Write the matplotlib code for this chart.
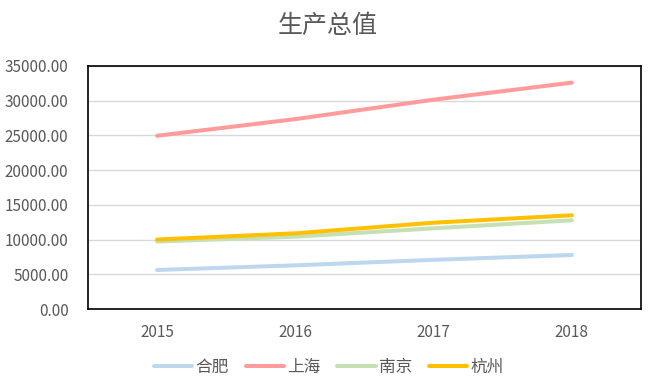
import matplotlib
matplotlib.use("Agg")
import matplotlib.pyplot as plt

plt.rcParams['font.family'] = ['Noto Sans CJK SC', 'DejaVu Sans']

# Data
years = ["2015", "2016", "2017", "2018"]
hefei = [5620, 6290, 7080, 7780]
shanghai = [24950, 27350, 30150, 32600]
nanjing = [9720, 10420, 11620, 12780]
hangzhou = [10000, 10900, 12430, 13500]

series = [
    ("合肥", hefei, "#BDD7EE"),
    ("上海", shanghai, "#FF9B9B"),
    ("南京", nanjing, "#C5E0B4"),
    ("杭州", hangzhou, "#FFC000"),
]

text_color = "#595959"

fig = plt.figure(figsize=(6.56, 3.90), dpi=100)
ax = fig.add_axes([88 / 656, 1 - 309 / 390, (641 - 88) / 656, (309 - 66) / 390])

x = list(range(len(years)))
for name, vals, col in series:
    ax.plot(x, vals, color=col, linewidth=2.9, solid_capstyle="round", label=name)

# Axes
ax.set_xlim(-0.5, len(years) - 0.5)
ax.set_ylim(0, 35000)
ax.set_yticks(range(0, 35001, 5000))
ax.set_yticklabels(["{:.2f}".format(v) for v in range(0, 35001, 5000)])
ax.set_xticks(x)
ax.set_xticklabels(years)
ax.tick_params(axis="y", length=0, pad=14, labelsize=11, labelcolor=text_color)
ax.tick_params(axis="x", length=0, pad=11, labelsize=11, labelcolor=text_color)

# Grid
ax.grid(axis="y", color="#D9D9D9", linewidth=1)
ax.set_axisbelow(True)
for sp in ax.spines.values():
    sp.set_color("black")
    sp.set_linewidth(1.2)

# Title
fig.text(0.5, 1 - 26 / 390, "生产总值", ha="center", va="center",
         fontsize=18, color=text_color)

# Legend
leg = fig.legend(loc="center", bbox_to_anchor=(329 / 656, 1 - 367 / 390), ncol=4,
                 frameon=False, fontsize=12, handlelength=2.3, handletextpad=0.2,
                 columnspacing=1.0)
for t in leg.get_texts():
    t.set_color(text_color)

fig.savefig("out.png", dpi=100)
